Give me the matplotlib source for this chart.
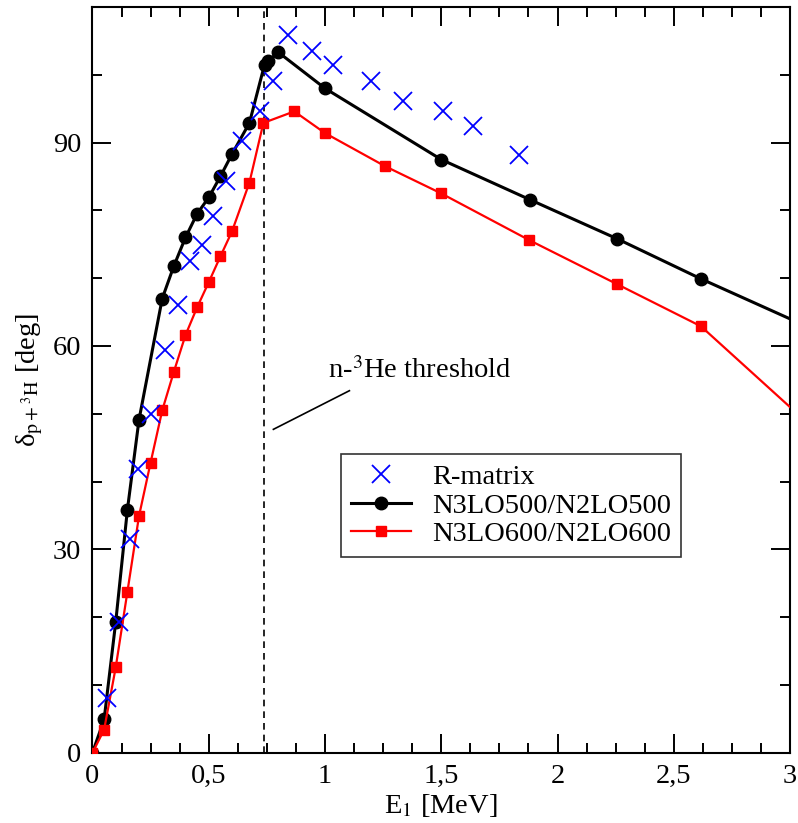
import matplotlib
matplotlib.use('Agg')
from matplotlib import pyplot as plt
from matplotlib.ticker import MultipleLocator

# R-matrix analysis points
rmatrixE = [0.061, 0.114, 0.161, 0.197, 0.25, 0.312, 0.369, 0.419, 0.472, 0.52, 0.573,
            0.644, 0.72, 0.775, 0.842, 0.943, 1.036, 1.197, 1.334, 1.509, 1.635, 1.833]
rmatrixDelta = [8.0, 19.3, 31.5, 41.8, 49.9, 59.4, 66.0, 72.6, 74.9, 79.2, 84.3,
                90.3, 94.7, 99.1, 105.8, 103.5, 101.4, 99.1, 96.2, 94.7, 92.5, 88.1]

# N3LO500/N2LO500
e500 = [0, 0.05, 0.1, 0.15, 0.2, 0.3, 0.35, 0.4, 0.45, 0.5, 0.55, 0.6, 0.675,
        0.74, 0.753, 0.8, 1.0, 1.5, 1.88, 2.257, 2.617, 3.35]
delta500 = [0, 4.9, 19.3, 35.8, 49.1, 67.0, 71.8, 76.0, 79.5, 81.9, 85.0, 88.3, 92.9,
            101.5, 102.0, 103.3, 98.0, 87.5, 81.6, 75.8, 69.9, 58.6]

# N3LO600/N2LO600
e600 = [0, 0.05, 0.1, 0.15, 0.2, 0.25, 0.3, 0.35, 0.4, 0.45, 0.5, 0.55, 0.6, 0.675,
        0.735, 0.868, 1.0, 1.259, 1.5, 1.879, 2.257, 2.617, 3.35]
delta600 = [0, 3.4, 12.6, 23.7, 34.9, 42.8, 50.5, 56.2, 61.6, 65.7, 69.4, 73.2, 76.9, 84.1,
            92.9, 94.6, 91.4, 86.5, 82.5, 75.6, 69.1, 62.9, 40.1]

thresholdE = 0.737
xTicks = [0, 0.5, 1, 1.5, 2, 2.5, 3]
xTickLabels = ['0', '0,5', '1', '1,5', '2', '2,5', '3']
yTicks = [0, 30, 60, 90]

plt.rcParams['font.family'] = ['Liberation Serif', 'DejaVu Serif']
plt.rcParams['mathtext.fontset'] = 'stix'
plt.rcParams['font.size'] = 20.5

fig = plt.figure(figsize=(7.98, 8.23), dpi=100)
ax = fig.add_axes([0.1159, 0.0854, 0.99 - 0.1159, 0.9915 - 0.0854])

ax.plot(rmatrixE, rmatrixDelta, linestyle='none', marker='x', color='blue',
        markersize=13, markeredgewidth=1.3, label='R-matrix', zorder=4)
ax.plot(e500, delta500, color='black', linewidth=2.2, marker='o', markersize=9,
        label='N3LO500/N2LO500', zorder=3)
ax.plot(e600, delta600, color='red', linewidth=1.6, marker='s', markersize=7,
        label='N3LO600/N2LO600', zorder=3)

# n-3He threshold marker and its label
ax.axvline(thresholdE, color='black', linestyle=(0, (4, 3)), linewidth=1.2, zorder=2)
ax.plot([0.778, 1.105], [47.7, 53.4], color='black', linewidth=1.2)
ax.text(1.013, 55.2, r'n-$^{3}$He threshold', fontsize=20.5)

ax.set_xlim(0, 3)
ax.set_ylim(0, 110)
ax.set_xticks(xTicks)
ax.set_xticklabels(xTickLabels)
ax.set_yticks(yTicks)
ax.xaxis.set_minor_locator(MultipleLocator(0.125))
ax.yaxis.set_minor_locator(MultipleLocator(10))
ax.tick_params(which='both', direction='in', top=True, right=True, width=1.4)
ax.tick_params(which='major', length=14, pad=8)
ax.tick_params(which='minor', length=7)
for spine in ax.spines.values():
    spine.set_linewidth(1.5)

ax.set_xlabel(r'E$_{1}$ [MeV]', labelpad=2)
ax.set_ylabel(r'δ$_{\mathrm{p+^{3}H}}$ [deg]', labelpad=6)

leg = ax.legend(loc='upper left', bbox_to_anchor=(0.356, 0.4006), borderaxespad=0,
                fontsize=20.5, frameon=True, fancybox=False, edgecolor='black',
                handlelength=2.1, borderpad=0.35, labelspacing=0.1, handletextpad=0.75)
leg.get_frame().set_linewidth(1.2)

fig.savefig('out.png', dpi=100)
